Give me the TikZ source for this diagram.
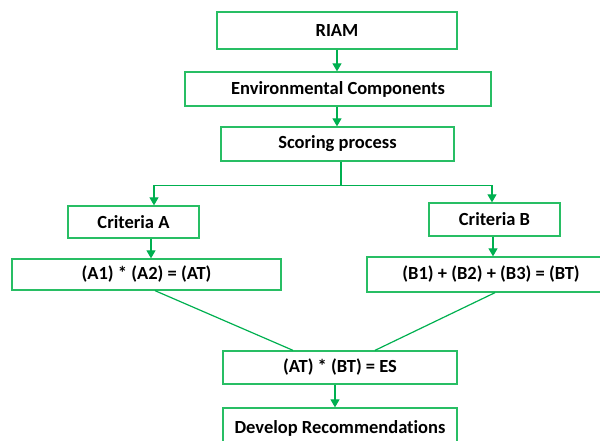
\documentclass[tikz,border=0pt]{standalone}
\usepackage{fontspec}
\setmainfont[Ligatures=CommonOff]{Carlito}
\usetikzlibrary{arrows.meta}
\definecolor{flowgreen}{RGB}{0,176,80}
\definecolor{boxgreen}{RGB}{40,190,100}
\tikzset{
  box/.style={draw=boxgreen, line width=1.3pt, fill=white, inner sep=0pt,
              font=\bfseries\fontsize{18.5}{21}\selectfont, text=black},
  link/.style={draw=flowgreen, line width=1.2pt},
  arr/.style={link, -{Triangle[width=9pt,length=8pt]}}
}
\begin{document}
\begin{tikzpicture}[x=1pt,y=-1pt]
  \useasboundingbox (0,0) rectangle (600,440);
  % boxes
  \node[box, minimum width=240pt, minimum height=37pt] (riam)  at (337,30.5)   {RIAM};
  \node[box, minimum width=306pt, minimum height=34pt] (env)   at (338,89)     {Environmental Components};
  \node[box, minimum width=233pt, minimum height=34pt] (score) at (337.5,144)  {Scoring process};
  \node[box, minimum width=131pt, minimum height=32pt] (critA) at (133.5,222)  {Criteria A};
  \node[box, minimum width=131pt, minimum height=33pt] (critB) at (494.5,219.5) {Criteria B};
  \node[box, minimum width=269pt, minimum height=31pt] (formA) at (146.5,274.5) {(A1) * (A2) = (AT)};
  \node[box, minimum width=248pt, minimum height=35pt] (formB) at (491,274.5)  {(B1) + (B2) + (B3) = (BT)};
  \node[box, minimum width=234pt, minimum height=33pt] (es)    at (340,367.5)  {(AT) * (BT) = ES};
  \node[box, minimum width=234pt, minimum height=40pt] (dev)   at (340,428)    {Develop Recommendations};
  % main chain
  \draw[arr] (riam.south) -- (riam.south |- env.north);
  \draw[arr] (env.south -| riam.south) -- (riam.south |- score.north);
  % split into the two criteria
  \coordinate (split) at (341,185.7);
  \draw[link] (score.south -| split) -- (split);
  \draw[arr] (split) -| ([xshift=20.5pt]critA.north);
  \draw[arr] (split) -| ([xshift=-2.5pt]critB.north);
  \draw[arr] ([xshift=17.5pt]critA.south) -- ([xshift=17.5pt]critA.south |- formA.north);
  \draw[arr] ([xshift=-1.5pt]critB.south) -- ([xshift=-1.5pt]critB.south |- formB.north);
  % combine the totals
  \draw[link] ([xshift=8.5pt]formA.south) -- ([xshift=-47pt]es.north);
  \draw[link] ([xshift=4pt]formB.south) -- ([xshift=35pt]es.north);
  \draw[arr] ([xshift=-5pt]es.south) -- ([xshift=-5pt]es.south |- dev.north);
\end{tikzpicture}
\end{document}
